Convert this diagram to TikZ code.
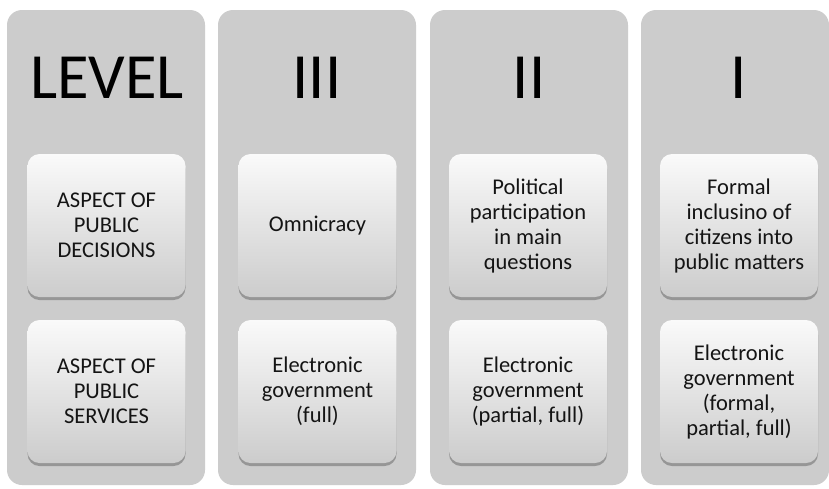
\documentclass[tikz,border=0pt]{standalone}
\usepackage{fontspec}
\setmainfont{Carlito}
\usetikzlibrary{shadows}
\definecolor{colfill}{RGB}{204,204,204}
\definecolor{boxtop}{RGB}{250,250,250}
\definecolor{boxbot}{RGB}{204,204,204}
\definecolor{txt}{RGB}{20,20,20}
\tikzset{
  column/.style={fill=colfill, draw=none, rounded corners=15pt, minimum width=198pt, minimum height=475pt, inner sep=0pt},
  header/.style={font=\fontsize{64.5}{70}\selectfont, text=black, inner sep=0pt},
  cell/.style={rounded corners=12pt, minimum width=158pt, minimum height=143pt, inner sep=2pt,
    top color=boxtop, bottom color=boxbot, draw=none, align=center, text=txt,
    font=\fontsize{22.5}{25}\selectfont,
    drop shadow={shadow xshift=0pt, shadow yshift=-3pt, opacity=0.35, fill=black!80}}
}
\begin{document}
\begin{tikzpicture}[x=1pt,y=-1pt]
\useasboundingbox (0,0) rectangle (829,488);
\fill[white] (0,0) rectangle (829,488);
% columns
\node[column] (c1) at (106,247.5) {};
\node[column] (c2) at (317,247.5) {};
\node[column] (c3) at (529,247.5) {};
\node[column, minimum width=188pt] (c4) at (735,247.5) {};
% headers
\node[header] (h1) at (107,78) {LEVEL};
\node[header] (h2) at (317,78) {III};
\node[header] (h3) at (529,78) {II};
\node[header] (h4) at (739,78) {I};
% top row
\node[cell] (a1) at (106.5,225.5) {ASPECT OF\\PUBLIC\\DECISIONS};
\node[cell] (a2) at (317.5,225.5) {Omnicracy};
\node[cell] (a3) at (528,225.5) {Political\\participation\\in main\\questions};
\node[cell] (a4) at (739,225.5) {Formal\\inclusino of\\citizens into\\public matters};
% bottom row
\node[cell] (b1) at (106.5,391.5) {ASPECT OF\\PUBLIC\\SERVICES};
\node[cell] (b2) at (317.5,391.5) {Electronic\\government\\(full)};
\node[cell] (b3) at (528,391.5) {Electronic\\government\\(partial, full)};
\node[cell] (b4) at (739,391.5) {Electronic\\government\\(formal,\\partial, full)};
\end{tikzpicture}
\end{document}
